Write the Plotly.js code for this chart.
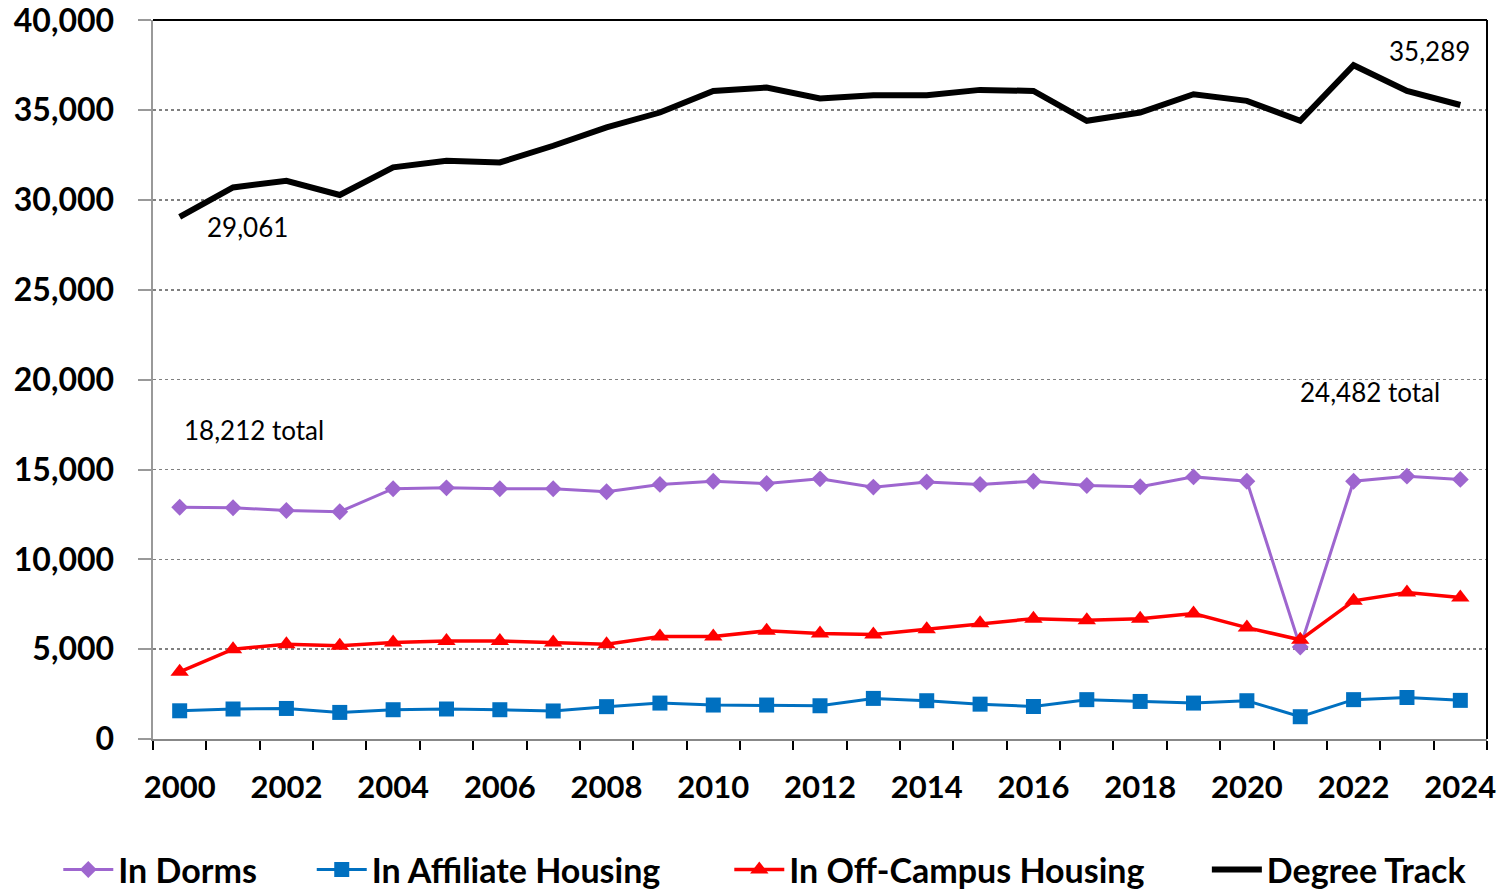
<!DOCTYPE html>
<html>
<head>
<meta charset="utf-8">
<script src="https://cdn.plot.ly/plotly-3.0.1.min.js"></script>
<style>html,body{margin:0;padding:0;background:#fff;}#chart{width:1503px;height:894px;}</style>
</head>
<body>
<div id="chart"></div>
<script>
const years = [2000,2001,2002,2003,2004,2005,2006,2007,2008,2009,2010,2011,2012,2013,2014,2015,2016,2017,2018,2019,2020,2021,2022,2023,2024];
const degreeTrack = [29061,30700,31070,30280,31820,32190,32090,33020,34040,34870,36070,36260,35650,35830,35830,36130,36070,34410,34870,35890,35520,34410,37500,36070,35289];
const inDorms = [12900,12870,12720,12650,13930,13980,13930,13930,13760,14170,14350,14220,14480,14020,14310,14170,14350,14110,14040,14590,14350,5120,14350,14630,14450];
const inAffiliate = [1570,1670,1700,1480,1630,1670,1630,1560,1800,2000,1890,1890,1850,2260,2130,1940,1810,2190,2090,2000,2130,1240,2190,2310,2150];
const inOffCampus = [3742,5000,5280,5190,5370,5460,5460,5370,5280,5700,5700,6020,5870,5820,6110,6440,6700,6610,6700,6980,6200,5520,7690,8150,7882];
const seriesNames = ['In Dorms','In Affiliate Housing','In Off-Campus Housing','Degree Track'];
const yTickVals = [0,5000,10000,15000,20000,25000,30000,35000,40000];
const xTickVals = [2000,2002,2004,2006,2008,2010,2012,2014,2016,2018,2020,2022,2024];

const fmt = v => v.toLocaleString('en-US');
const totals = years.map((y,i)=>inDorms[i]+inAffiliate[i]+inOffCampus[i]);
const last = years.length-1;

const FONT = 'Lato, "Open Sans", sans-serif';

const traces = [
  {x:years, y:inDorms, name:seriesNames[0], type:'scatter', mode:'lines+markers',
   line:{color:'#9E66CF', width:3}, marker:{symbol:'diamond', size:13, color:'#9E66CF'}, legend:'legend'},
  {x:years, y:inAffiliate, name:seriesNames[1], type:'scatter', mode:'lines+markers',
   line:{color:'#0070C0', width:3}, marker:{symbol:'square', size:15, color:'#0070C0'}, legend:'legend2'},
  {x:years, y:inOffCampus, name:seriesNames[2], type:'scatter', mode:'lines+markers',
   line:{color:'#FF0000', width:3.5}, marker:{symbol:'triangle-up', size:16, color:'#FF0000'}, legend:'legend3'},
  {x:years, y:degreeTrack, name:seriesNames[3], type:'scatter', mode:'lines',
   line:{color:'#000000', width:6}, legend:'legend4'}
];

const legendBase = {orientation:'h', yref:'container', yanchor:'middle', y:0.027, xanchor:'left',
  font:{family:FONT, size:34, color:'#000', weight:'bold'}, bgcolor:'rgba(0,0,0,0)', itemwidth:50};

const layout = {
  width:1503, height:894,
  margin:{l:153, r:16, t:20, b:155, autoexpand:false},
  paper_bgcolor:'#fff', plot_bgcolor:'#fff',
  showlegend:true,
  xaxis:{
    range:[1999.5, 2024.5], tickvals:xTickVals, ticktext:xTickVals.map(String),
    ticks:'', showgrid:false, zeroline:false,
    showline:true, linecolor:'#888888', linewidth:2,
    tickfont:{family:FONT, size:31, color:'#000', weight:'bold'},
    ticklabelstandoff:20, ticklabeloverflow:'allow',
    minor:{ticks:'outside', tick0:1999.5, dtick:1, ticklen:9, tickwidth:2, tickcolor:'#000', showgrid:false}
  },
  yaxis:{
    range:[0,40020], tickvals:yTickVals, ticktext:yTickVals.map(fmt),
    ticks:'outside', ticklen:13, tickwidth:2, tickcolor:'#999999',
    showline:true, linecolor:'#999999', linewidth:2.5,
    showgrid:true, gridcolor:'#808080', gridwidth:1.5, griddash:'dot',
    zeroline:false,
    tickfont:{family:FONT, size:32, color:'#000', weight:'bold'},
    ticklabelstandoff:17, ticklabeloverflow:'allow'
  },
  legend:Object.assign({}, legendBase, {x:-0.071}),
  legend2:Object.assign({}, legendBase, {x:0.119}),
  legend3:Object.assign({}, legendBase, {x:0.432}),
  legend4:Object.assign({}, legendBase, {x:0.79}),
  shapes:[
    {type:'line', xref:'paper', yref:'paper', x0:0, x1:1, y0:1, y1:1, line:{color:'#000', width:2}},
    {type:'line', xref:'paper', yref:'paper', x0:1, x1:1, y0:0, y1:1, line:{color:'#000', width:2}}
  ],
  annotations:[
    {x:years[0], y:degreeTrack[0], text:fmt(degreeTrack[0]), showarrow:false, xanchor:'left', yanchor:'top',
     xshift:25, yshift:8, font:{family:FONT, size:26, color:'#000'}},
    {x:years[last], y:degreeTrack[last], text:fmt(degreeTrack[last]), showarrow:false, xanchor:'right', yanchor:'bottom',
     xshift:12, yshift:36, font:{family:FONT, size:26, color:'#000'}},
    {x:years[0], y:17200, text:fmt(totals[0])+' total', showarrow:false, xanchor:'left', yanchor:'middle',
     xshift:2, font:{family:FONT, size:26, color:'#000'}},
    {x:years[21], y:19300, text:fmt(totals[last])+' total', showarrow:false, xanchor:'left', yanchor:'middle',
     xshift:-2, font:{family:FONT, size:26, color:'#000'}}
  ]
};

Plotly.newPlot('chart', traces, layout, {displayModeBar:false, staticPlot:true});
</script>
</body>
</html>
